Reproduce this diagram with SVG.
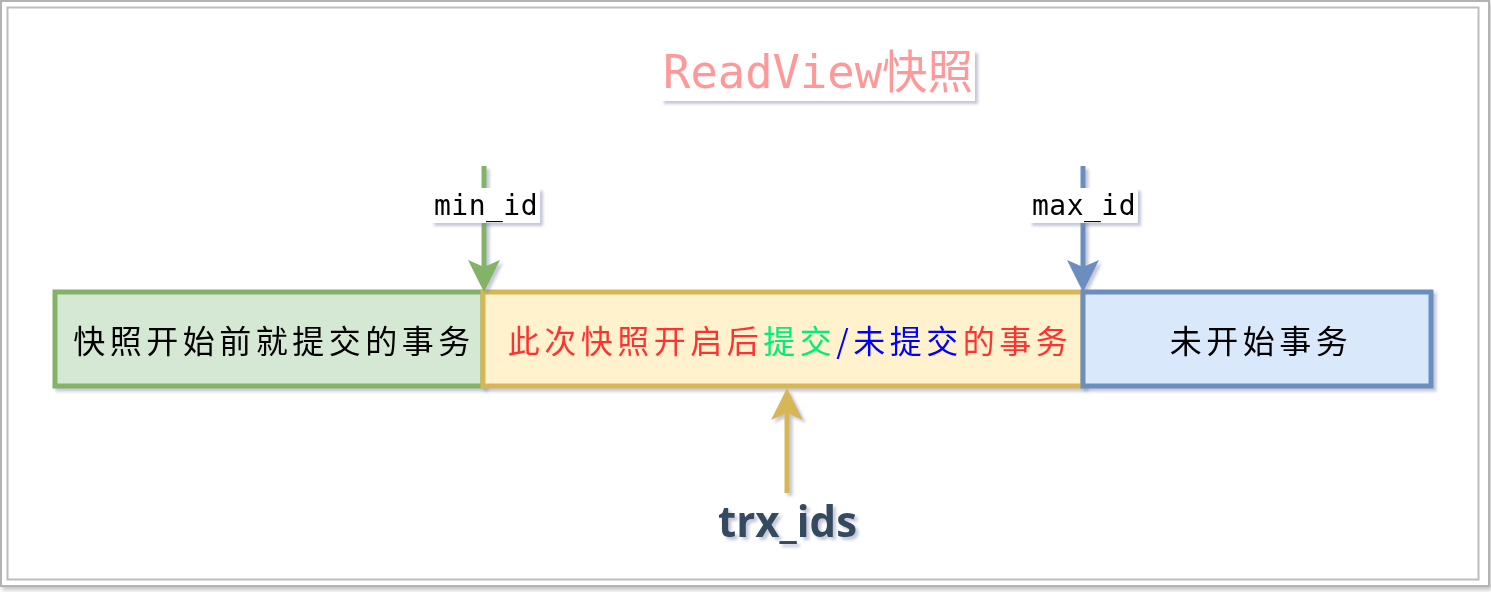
<svg xmlns="http://www.w3.org/2000/svg" width="1491" height="592" viewBox="0 0 1491 592">
  <defs>
    <filter id="sh" x="-10%" y="-10%" width="130%" height="140%">
      <feDropShadow dx="3" dy="3" stdDeviation="1.5" flood-color="#7a82a8" flood-opacity="0.45"/>
    </filter>
    <filter id="fsh" x="-2%" y="-2%" width="104%" height="106%">
      <feDropShadow dx="2" dy="3" stdDeviation="2" flood-color="#888" flood-opacity="0.5"/>
    </filter>
    <marker id="ahG" markerUnits="userSpaceOnUse" markerWidth="32" markerHeight="32" refX="7" refY="16" orient="auto" viewBox="0 0 32 32">
      <path d="M0,0 L32,16 L0,32 L7,16 z" fill="#82b366"/>
    </marker>
    <marker id="ahB" markerUnits="userSpaceOnUse" markerWidth="32" markerHeight="32" refX="7" refY="16" orient="auto" viewBox="0 0 32 32">
      <path d="M0,0 L32,16 L0,32 L7,16 z" fill="#6c8ebf"/>
    </marker>
    <marker id="ahY" markerUnits="userSpaceOnUse" markerWidth="32" markerHeight="32" refX="7" refY="16" orient="auto" viewBox="0 0 32 32">
      <path d="M0,0 L32,16 L0,32 L7,16 z" fill="#d6b656"/>
    </marker>
  </defs>
  <style>
    .box { stroke-width: 5; }
    .cjk { font-family: "Noto Sans CJK SC", sans-serif; font-size: 32px; letter-spacing: 4.5px; }
    .lbl { font-family: "DejaVu Sans Mono", "Liberation Mono", monospace; font-size: 28px; fill: #000; letter-spacing: 0.5px; }
    .conn { fill: none; stroke-width: 5; }
  </style>
  <rect x="0" y="0" width="1491" height="592" fill="#fff"/>
  <g id="frame">
    <rect x="1" y="1" width="1488" height="585" fill="#fff" stroke="#b3b3b3" stroke-width="2" filter="url(#fsh)"/>
    <rect x="7.5" y="7.5" width="1471" height="572" fill="#fff" stroke="#bdbdbd" stroke-width="2"/>
  </g>

  <g id="title" filter="url(#sh)">
    <rect x="661" y="50" width="314" height="51" fill="#fff"/>
    <text x="663" y="88" font-family="DejaVu Sans Mono, Liberation Mono, monospace" font-size="46" fill="#ff9999" textLength="310" lengthAdjust="spacingAndGlyphs">ReadView<tspan font-family="Noto Sans CJK SC, sans-serif">快照</tspan></text>
  </g>

  <g id="node-before" filter="url(#sh)">
    <rect class="box" x="55" y="292" width="428" height="94" fill="#d5e8d4" stroke="#82b366"/>
    <text class="cjk" x="274" y="353" text-anchor="middle" fill="#000">快照开始前就提交的事务</text>
  </g>

  <g id="node-active" filter="url(#sh)">
    <rect class="box" x="483" y="292" width="600" height="94" fill="#fff2cc" stroke="#d6b656"/>
    <text class="cjk" x="790" y="353" text-anchor="middle"><tspan fill="#ff3333">此次快照开启后</tspan><tspan fill="#00ee77">提交</tspan><tspan fill="#0000ff">/未提交</tspan><tspan fill="#ff3333">的事务</tspan></text>
  </g>

  <g id="node-future" filter="url(#sh)">
    <rect class="box" x="1083" y="292" width="348" height="94" fill="#dae8fc" stroke="#6c8ebf"/>
    <text class="cjk" x="1261" y="353" text-anchor="middle" fill="#000">未开始事务</text>
  </g>

  <g id="connectors" filter="url(#sh)">
    <line class="conn" x1="484" y1="166" x2="484" y2="267" stroke="#82b366" marker-end="url(#ahG)"/>
    <line class="conn" x1="1083" y1="166" x2="1083" y2="267" stroke="#6c8ebf" marker-end="url(#ahB)"/>
    <line class="conn" x1="787" y1="493" x2="787" y2="413" stroke="#d6b656" marker-end="url(#ahY)"/>
  </g>

  <g id="label-min" filter="url(#sh)">
    <rect x="431" y="188" width="109" height="35" fill="#fff"/>
    <text class="lbl" x="486" y="215" text-anchor="middle">min_id</text>
  </g>
  <g id="label-max" filter="url(#sh)">
    <rect x="1029" y="188" width="109" height="35" fill="#fff"/>
    <text class="lbl" x="1084" y="215" text-anchor="middle">max_id</text>
  </g>

  <g id="label-trx" filter="url(#sh)">
    <text x="718" y="537" font-family="Open Sans, Liberation Sans, sans-serif" font-weight="bold" font-size="43" fill="#34495e" textLength="139" lengthAdjust="spacingAndGlyphs">trx_ids</text>
  </g>
</svg>
